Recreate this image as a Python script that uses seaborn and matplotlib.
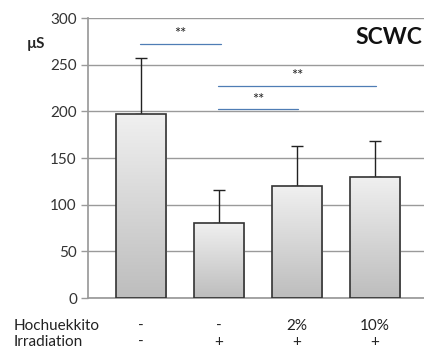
import numpy as np
import pandas as pd
import matplotlib
matplotlib.use("Agg")
import matplotlib.pyplot as plt
import seaborn as sns

groups = ["g1", "g2", "g3", "g4"]
values = [197, 80, 120, 130]
errors = [60, 36, 43, 38]
hochuekkito = ["-", "-", "2%", "10%"]
irradiation = ["-", "+", "+", "+"]
yticks = [0, 50, 100, 150, 200, 250, 300]
# significance brackets: (from group, to group, y level)
sig_from = [0, 1, 1]
sig_to = [1, 2, 3]
sig_y = [272, 202, 227]

sns.set_theme(style="white")
plt.rcParams['font.family'] = ['Lato', 'DejaVu Sans']

fig = plt.figure(figsize=(4.24, 3.48), dpi=100)
ax = fig.add_axes([88/424, 50/348, 336/424, 280/348])

df = pd.DataFrame({"group": groups, "value": values})
sns.barplot(data=df, x="group", y="value", ax=ax, color="#dddddd",
            edgecolor="#333333", linewidth=1.2, width=0.65, zorder=3)

ax.errorbar(range(len(values)), values, yerr=[np.zeros(len(errors)), errors],
            fmt="none", ecolor="#222222", elinewidth=1.0, capsize=4, capthick=1.0, zorder=2)

# gradient fill
grad = np.linspace(0, 1, 256).reshape(-1, 1)
cmap = matplotlib.colors.LinearSegmentedColormap.from_list("g", ["#bdbdbd", "#f0f0f0"])
for p in list(ax.patches):
    x0, y0 = p.get_x(), p.get_y()
    w, h = p.get_width(), p.get_height()
    im = ax.imshow(grad, extent=[x0, x0 + w, y0, y0 + h], origin="lower",
                   cmap=cmap, aspect="auto", zorder=2.5)
    im.set_clip_path(p)
    p.set_facecolor("none")

ax.set_xlim(-0.68, 3.63)
ax.set_ylim(0, 300)
ax.set_yticks(yticks)
ax.set_yticklabels([str(t) for t in yticks], fontsize=11, color="#333333")
ax.yaxis.grid(True, color="#9a9a9a", linewidth=1.0, zorder=0)
ax.set_axisbelow(True)
ax.tick_params(axis="y", length=5, color="#9a9a9a", width=1.0, pad=3, left=True)
ax.set_xticks([])
ax.set_xlabel("")
ax.set_ylabel("")
for s in ["top", "right"]:
    ax.spines[s].set_visible(False)
ax.spines["left"].set_color("#9a9a9a")
ax.spines["bottom"].set_color("#9a9a9a")

# significance lines
for a, b, yv in zip(sig_from, sig_to, sig_y):
    ax.plot([a - 0.01, b + 0.02], [yv, yv], color="#4f7db5", linewidth=0.9, zorder=4)
    ax.text((a + b) / 2, yv + 3, "**", ha="center", va="bottom", fontsize=10.5, color="#222222")

ax.text(0.995, 0.93, "SCWC", transform=ax.transAxes, ha="right", va="center",
        fontsize=16.5, fontweight="bold", color="#111111")
fig.text(27/424, 1 - 44/348, "µS", ha="left", va="center", fontsize=11, fontweight="bold")

# bottom labels
fig.text(14/424, 1 - 326/348, "Hochuekkito", ha="left", va="center", fontsize=11, color="#222222")
fig.text(14/424, 1 - 342/348, "Irradiation", ha="left", va="center", fontsize=11, color="#222222")
tr = matplotlib.transforms.blended_transform_factory(ax.transData, fig.transFigure)
for i, (h, r) in enumerate(zip(hochuekkito, irradiation)):
    ax.text(i, 1 - 326/348, h, transform=tr, ha="center", va="center", fontsize=11, color="#222222")
    ax.text(i, 1 - 342/348, r, transform=tr, ha="center", va="center", fontsize=11, color="#222222")

fig.savefig("out.png", dpi=100)
